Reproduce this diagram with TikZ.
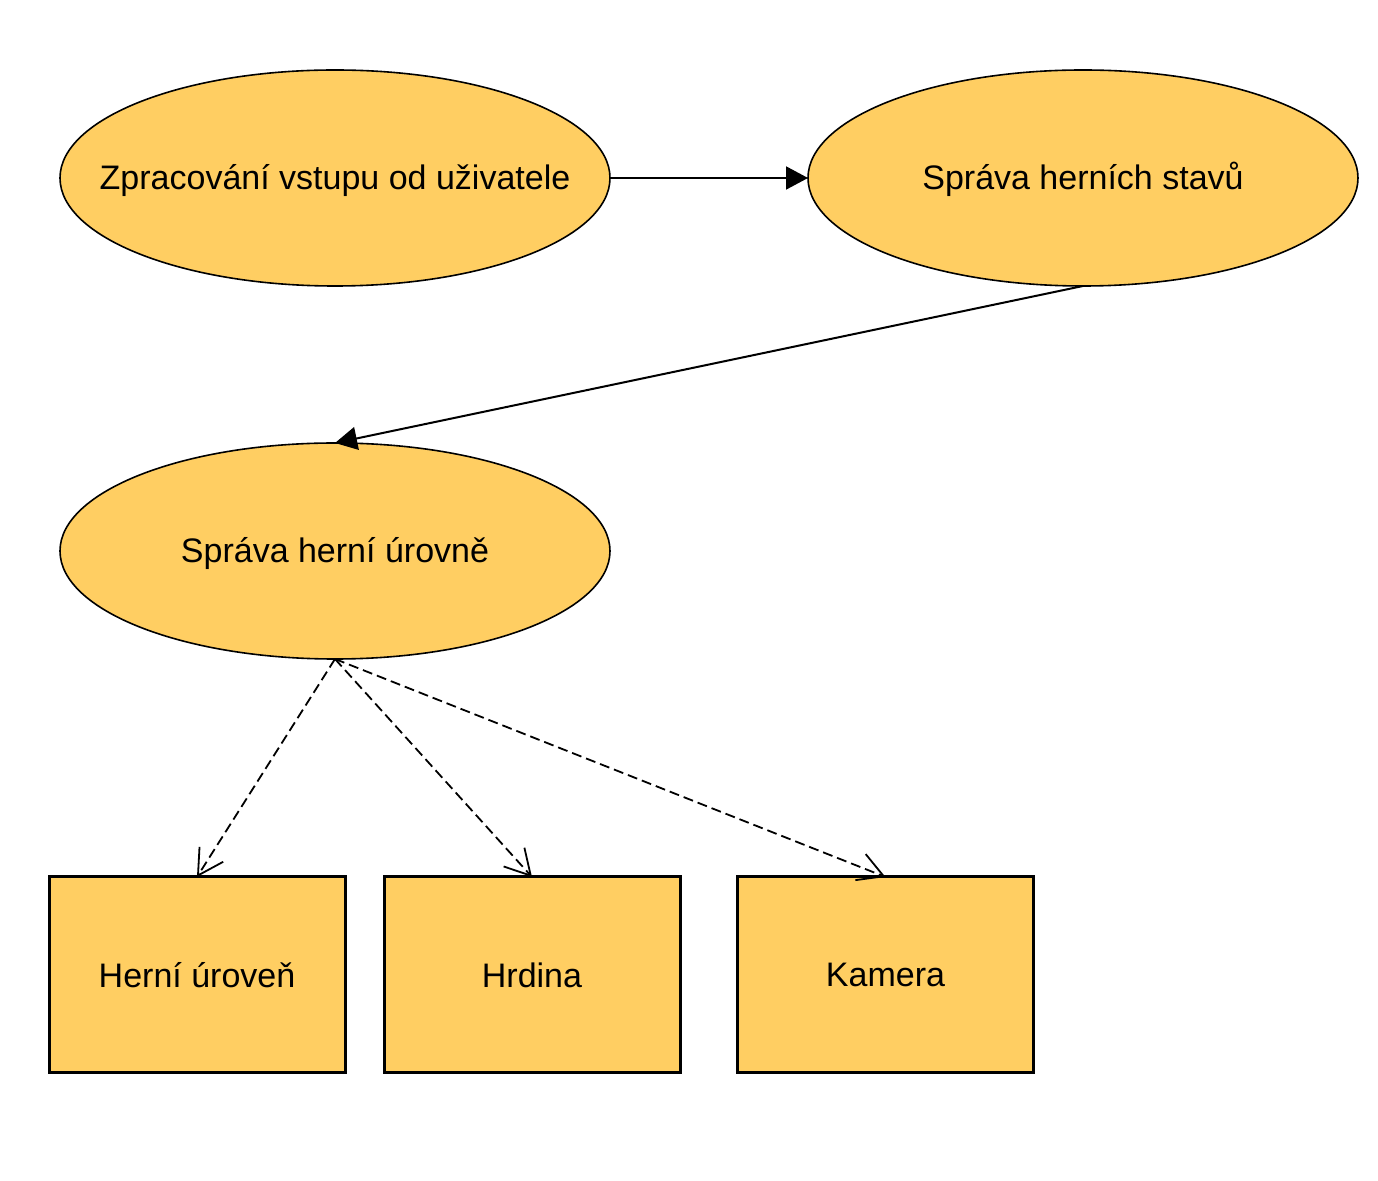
\documentclass[tikz,border=0pt]{standalone}
\usepackage{fontspec}
\setmainfont{Liberation Sans}
\usetikzlibrary{shapes.geometric,arrows.meta}
\definecolor{boxfill}{HTML}{FFCE62}
\newcommand{\ztxt}[1]{\makebox[0pt]{#1}}
\newcommand{\etxt}[1]{\makebox[0pt]{\raisebox{-6pt}[0pt][0pt]{#1}}}
\tikzset{
  proc/.style={ellipse, draw=black, line width=0.8pt, fill=boxfill, minimum width=275pt, minimum height=108pt, inner sep=0pt, outer sep=0pt, font=\fontsize{17pt}{20pt}\selectfont},
  comp/.style={rectangle, draw=black, line width=1.5pt, fill=boxfill, minimum width=148pt, minimum height=98pt, inner sep=0pt, outer sep=0pt, font=\fontsize{17pt}{20pt}\selectfont},
  flow/.style={line width=1pt, -{Triangle[length=11pt,width=11.5pt]}},
  uses/.style={line width=0.9pt, dash pattern=on 5pt off 2.5pt, -{Straight Barb[length=12.5pt,width=14pt,line width=0.9pt]}}
}
\begin{document}
\begin{tikzpicture}[x=0.5pt,y=-0.5pt]
\useasboundingbox (0,0) rectangle (1378,1181);
\node[proc] (e1) at (335,178) {\etxt{Zpracování vstupu od uživatele}};
\node[proc] (e2) at (1083,178) {\etxt{Správa herních stavů}};
\node[proc] (e3) at (335,551) {\etxt{Správa herní úrovně}};
\node[comp] (r1) at (197,975) {\ztxt{Herní úroveň}};
\node[comp] (r2) at (532,975) {\ztxt{Hrdina}};
\node[comp] (r3) at (885.5,975) {\ztxt{Kamera}};
\draw[flow] (e1.east) -- (e2.west);
\draw[flow] (e2.south) -- (e3.north);
\draw[uses] (e3.south) -- (r1.north);
\draw[uses] (e3.south) -- (r2.north);
\draw[uses] (e3.south) -- (r3.north);
\end{tikzpicture}
\end{document}
